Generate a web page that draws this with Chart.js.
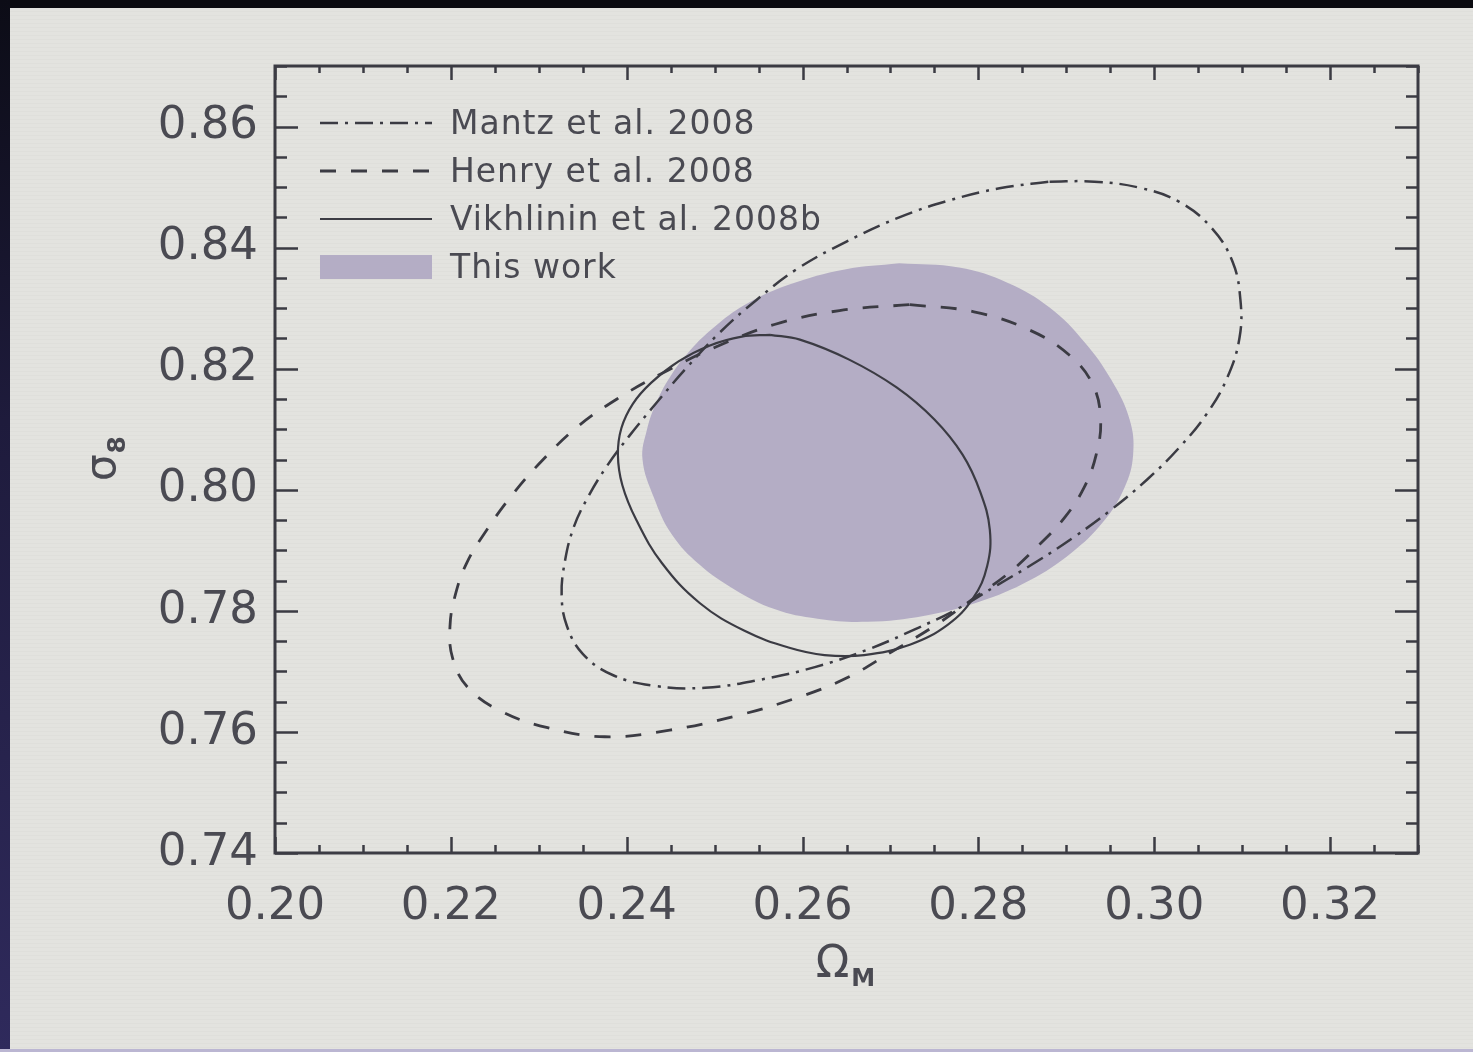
<!DOCTYPE html>
<html>
<head>
<meta charset="utf-8">
<title>σ8 – ΩM constraints</title>
<script src="https://cdn.jsdelivr.net/npm/chart.js@4.4.1/dist/chart.umd.min.js"></script>
<style>
  html, body { margin: 0; padding: 0; overflow: hidden; background: #e3e3df; }
  #wrap { position: relative; width: 1473px; height: 1052px;
    background: repeating-linear-gradient(0deg, rgba(0,0,0,0.018) 0 1px, rgba(0,0,0,0) 1px 4px); }
  .edge-top { position: absolute; left: 0; top: 0; width: 1473px; height: 8px; background: #0b0b10; }
  .edge-left { position: absolute; left: 0; top: 0; width: 10px; height: 1052px;
    background: linear-gradient(#0c0c16, #1e1b3c 40%, #2f2a5c); }
  .edge-bottom { position: absolute; left: 0; bottom: 0; width: 1473px; height: 3px; background: #bbb6d2; }
  canvas { position: absolute; left: 0; top: 0; }
</style>
</head>
<body>
<div id="wrap">
  <canvas id="contours" width="1473" height="1052"></canvas>
  <div class="edge-top"></div>
  <div class="edge-left"></div>
  <div class="edge-bottom"></div>
</div>
<script>
// axis ranges and tick labels
const xRange = [0.20, 0.33];
const yRange = [0.74, 0.87];
const xTicks = [0.20, 0.22, 0.24, 0.26, 0.28, 0.30, 0.32];
const yTicks = [0.74, 0.76, 0.78, 0.80, 0.82, 0.84, 0.86];
const minorStep = 0.005;

// contour outlines, [Omega_M, sigma_8]; each starts and ends at its top
const mantzContour = [
  [0.2881, 0.8509], [0.2932, 0.8509], [0.2983, 0.8499], [0.3028, 0.8476],
  [0.3065, 0.8433], [0.3089, 0.8377], [0.3098, 0.8314], [0.3097, 0.8251],
  [0.3083, 0.8185], [0.3060, 0.8126], [0.3028, 0.8069], [0.2992, 0.8017],
  [0.2951, 0.7967], [0.2909, 0.7922], [0.2866, 0.7881], [0.2822, 0.7843],
  [0.2776, 0.7803], [0.2727, 0.7769], [0.2674, 0.7736], [0.2614, 0.7707],
  [0.2551, 0.7686], [0.2489, 0.7673], [0.2432, 0.7676], [0.2384, 0.7694],
  [0.2350, 0.7729], [0.2332, 0.7775], [0.2326, 0.7826], [0.2330, 0.7884],
  [0.2340, 0.7939], [0.2356, 0.7988], [0.2377, 0.8038], [0.2403, 0.8089],
  [0.2433, 0.8142], [0.2466, 0.8198], [0.2506, 0.8260], [0.2548, 0.8314],
  [0.2593, 0.8364], [0.2650, 0.8410], [0.2710, 0.8450], [0.2767, 0.8478],
  [0.2824, 0.8498], [0.2881, 0.8509]
];
const henryContour = [
  [0.2722, 0.8306], [0.2795, 0.8294], [0.2858, 0.8264], [0.2903, 0.8223],
  [0.2930, 0.8174], [0.2939, 0.8116], [0.2934, 0.8058], [0.2920, 0.8003],
  [0.2898, 0.7954], [0.2869, 0.7909], [0.2835, 0.7863], [0.2795, 0.7821],
  [0.2750, 0.7775], [0.2701, 0.7732], [0.2650, 0.7689], [0.2593, 0.7656],
  [0.2523, 0.7626], [0.2449, 0.7603], [0.2375, 0.7592], [0.2310, 0.7607],
  [0.2256, 0.7635], [0.2219, 0.7674], [0.2202, 0.7722], [0.2199, 0.7774],
  [0.2205, 0.7826], [0.2218, 0.7879], [0.2241, 0.7934], [0.2270, 0.7992],
  [0.2305, 0.8050], [0.2344, 0.8104], [0.2389, 0.8150], [0.2441, 0.8193],
  [0.2500, 0.8235], [0.2568, 0.8273], [0.2642, 0.8296], [0.2722, 0.8306]
];
const vikhlininContour = [
  [0.2563, 0.8256], [0.2597, 0.8248], [0.2653, 0.8215], [0.2707, 0.8169],
  [0.2750, 0.8116], [0.2782, 0.8058], [0.2802, 0.7997], [0.2813, 0.7934],
  [0.2810, 0.7874], [0.2794, 0.7821], [0.2765, 0.7777], [0.2722, 0.7744],
  [0.2670, 0.7727], [0.2625, 0.7727], [0.2585, 0.7739], [0.2534, 0.7767],
  [0.2483, 0.7813], [0.2440, 0.7879], [0.2411, 0.7950], [0.2395, 0.8008],
  [0.2390, 0.8058], [0.2394, 0.8102], [0.2407, 0.8142], [0.2428, 0.8177],
  [0.2459, 0.8212], [0.2494, 0.8238], [0.2531, 0.8253], [0.2563, 0.8256]
];
const thisWorkContour = [
  [0.2710, 0.8374], [0.2778, 0.8367], [0.2833, 0.8342], [0.2881, 0.8301],
  [0.2920, 0.8245], [0.2951, 0.8182], [0.2972, 0.8116], [0.2976, 0.8058],
  [0.2966, 0.8003], [0.2942, 0.7947], [0.2906, 0.7896], [0.2858, 0.7850],
  [0.2801, 0.7815], [0.2739, 0.7792], [0.2674, 0.7782], [0.2617, 0.7787],
  [0.2568, 0.7803], [0.2523, 0.7835], [0.2483, 0.7876], [0.2451, 0.7927],
  [0.2431, 0.7987], [0.2418, 0.8050], [0.2423, 0.8099], [0.2434, 0.8145],
  [0.2450, 0.8188], [0.2472, 0.8230], [0.2499, 0.8268], [0.2535, 0.8306],
  [0.2585, 0.8339], [0.2648, 0.8364], [0.2710, 0.8374]
];

const labels = ["Mantz et al. 2008", "Henry et al. 2008", "Vikhlinin et al. 2008b", "This work"];

const lineColor = "#3b3b43";
const textColor = "#4a4a52";
const fillColor = "#b4adc5";
const fontFamily = '"DejaVu Sans", "Liberation Sans", sans-serif';

const toPoints = (arr) => arr.map(([x, y]) => ({ x, y }));

// inward ticks on all four sides plus the frame
const frameTicks = {
  id: "frameTicks",
  afterDraw(chart) {
    const { ctx, chartArea: a, scales: { x, y } } = chart;
    ctx.save();
    ctx.strokeStyle = lineColor;
    ctx.lineWidth = 2.5;
    ctx.beginPath();
    const nx = Math.round((xRange[1] - xRange[0]) / minorStep);
    for (let i = 0; i <= nx; i++) {
      const v = xRange[0] + i * minorStep;
      const major = xTicks.some((t) => Math.abs(t - v) < 1e-6);
      const px = Math.round(x.getPixelForValue(v)) + 0.5;
      const len = major ? 16 : 8;
      ctx.moveTo(px, a.bottom); ctx.lineTo(px, a.bottom - len);
      ctx.moveTo(px, a.top); ctx.lineTo(px, a.top + (major ? 14 : 7));
    }
    const ny = Math.round((yRange[1] - yRange[0]) / minorStep);
    for (let i = 0; i <= ny; i++) {
      const v = yRange[0] + i * minorStep;
      const major = yTicks.some((t) => Math.abs(t - v) < 1e-6);
      const py = Math.round(y.getPixelForValue(v)) + 0.5;
      const len = major ? 23 : 12;
      ctx.moveTo(a.left, py); ctx.lineTo(a.left + len, py);
      ctx.moveTo(a.right, py); ctx.lineTo(a.right - len, py);
    }
    ctx.stroke();
    ctx.lineWidth = 3;
    ctx.strokeRect(a.left, a.top, a.right - a.left, a.bottom - a.top);
    ctx.restore();
  },
};

// legend box in the upper left and the axis titles
const annotations = {
  id: "annotations",
  afterDraw(chart) {
    const { ctx, chartArea: a } = chart;
    const ds = chart.data.datasets;
    ctx.save();
    ctx.fillStyle = textColor;
    ctx.font = "33px " + fontFamily;
    ctx.letterSpacing = "1px";
    ctx.textBaseline = "middle";
    const order = [2, 1, 0, 3];
    order.forEach((di, row) => {
      const d = ds[di];
      const yMid = a.top + 57 + row * 48;
      const x0 = a.left + 45, x1 = a.left + 157;
      if (d.fill) {
        ctx.fillStyle = d.backgroundColor;
        ctx.fillRect(x0, yMid - 12, x1 - x0, 24);
      } else {
        ctx.strokeStyle = d.borderColor;
        ctx.lineWidth = d.borderWidth;
        ctx.setLineDash(d.borderDash || []);
        ctx.beginPath();
        ctx.moveTo(x0, yMid); ctx.lineTo(x1, yMid);
        ctx.stroke();
        ctx.setLineDash([]);
      }
      ctx.fillStyle = textColor;
      ctx.fillText(d.label, a.left + 175, yMid + 2);
    });

    // x title: Omega_M
    ctx.letterSpacing = "0px";
    ctx.textBaseline = "alphabetic";
    ctx.font = "44px " + fontFamily;
    const wO = ctx.measureText("Ω").width;
    ctx.font = "bold 24px " + fontFamily;
    const wM = ctx.measureText("M").width;
    const cx = (a.left + a.right) / 2 - 1;
    const left = cx - (wO + wM + 2) / 2;
    ctx.font = "44px " + fontFamily;
    ctx.fillText("Ω", left, 977);
    ctx.font = "bold 24px " + fontFamily;
    ctx.fillText("M", left + wO + 2, 986);

    // y title: sigma_8, rotated
    ctx.translate(115, 481);
    ctx.rotate(-Math.PI / 2);
    ctx.font = "42px " + fontFamily;
    const wS = ctx.measureText("σ").width;
    ctx.fillText("σ", 0, 0);
    ctx.font = "bold 25px " + fontFamily;
    ctx.fillText("8", wS + 1, 10);
    ctx.restore();
  },
};

const tickFont = { family: fontFamily, size: 45 };

new Chart(document.getElementById("contours").getContext("2d"), {
  type: "scatter",
  data: {
    datasets: [
      {
        label: labels[2],
        data: toPoints(vikhlininContour),
        borderColor: lineColor,
        borderWidth: 2.2,
        showLine: true,
        fill: false,
      },
      {
        label: labels[1],
        data: toPoints(henryContour),
        borderColor: lineColor,
        borderWidth: 2.8,
        borderDash: [16, 15],
        showLine: true,
        fill: false,
      },
      {
        label: labels[0],
        data: toPoints(mantzContour),
        borderColor: lineColor,
        borderWidth: 2.5,
        borderDash: [18, 7, 3, 7],
        showLine: true,
        fill: false,
      },
      {
        label: labels[3],
        data: toPoints(thisWorkContour),
        borderColor: fillColor,
        borderWidth: 0,
        backgroundColor: fillColor,
        showLine: true,
        fill: "shape",
      },
    ],
  },
  options: {
    responsive: false,
    animation: false,
    events: [],
    elements: {
      point: { radius: 0, hoverRadius: 0 },
      line: { tension: 0.4 },
    },
    layout: { padding: { top: 66, right: 55, left: 0, bottom: 0 } },
    plugins: {
      legend: { display: false },
      tooltip: { enabled: false },
    },
    scales: {
      x: {
        type: "linear",
        min: xRange[0],
        max: xRange[1],
        afterFit: (s) => { s.height = 199; },
        afterBuildTicks: (s) => { s.ticks = xTicks.map((v) => ({ value: v })); },
        grid: { display: false, drawTicks: false },
        border: { display: false },
        ticks: {
          padding: 27,
          font: tickFont,
          color: textColor,
          maxRotation: 0,
          callback: (v) => v.toFixed(2),
        },
      },
      y: {
        type: "linear",
        min: yRange[0],
        max: yRange[1],
        afterFit: (s) => { s.width = 275; },
        afterBuildTicks: (s) => { s.ticks = yTicks.map((v) => ({ value: v })); },
        grid: { display: false, drawTicks: false },
        border: { display: false },
        ticks: {
          padding: 17,
          font: tickFont,
          color: textColor,
          callback: (v) => v.toFixed(2),
        },
      },
    },
  },
  plugins: [frameTicks, annotations],
});
</script>
</body>
</html>
